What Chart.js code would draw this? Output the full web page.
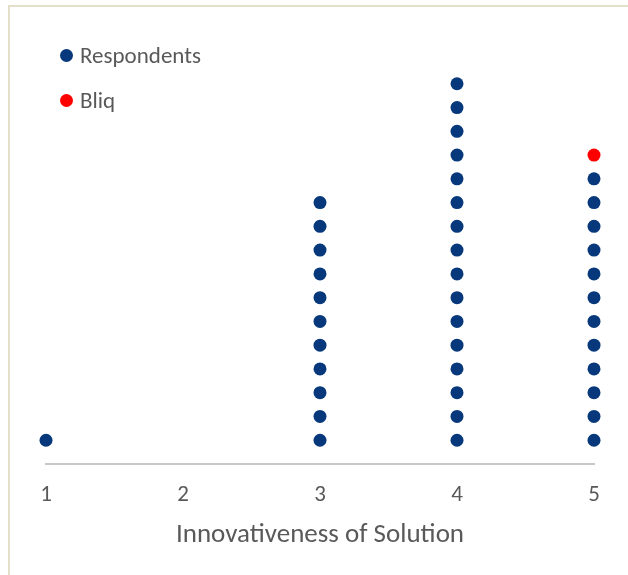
<!DOCTYPE html>
<html>
<head>
<meta charset="utf-8">
<script src="https://cdn.jsdelivr.net/npm/chart.js@4"></script>
<style>
    html, body { margin: 0; padding: 0; background: #fff; }
    body { width: 628px; height: 575px; position: relative; overflow: hidden; }
    .frame {
        position: absolute; left: 8px; top: 5px; width: 640px; height: 600px;
        border-left: 2px solid #e4dfca; border-top: 2px solid #e4dfca;
    }
    #chartBox { position: absolute; left: 0; top: 0; width: 628px; height: 575px; }
    .legend { position: absolute; left: 60px; top: 42px; font-family: Carlito, "Liberation Sans Narrow", "Open Sans", sans-serif; font-size: 23px; color: #595959; }
    .legend div { display: flex; align-items: center; height: 26px; margin-bottom: 19px; }
    .legend span.dot { width: 13px; height: 13px; border-radius: 50%; display: inline-block; margin-right: 7px; }
</style>
</head>
<body>
<div class="frame"></div>
<div id="chartBox"><canvas id="dotChart" width="628" height="575"></canvas></div>
<div class="legend" id="legend"></div>
<script>
// 資料
const scores = [1, 2, 3, 4, 5];
const respondentCounts = [1, 0, 11, 16, 12];
const bliqScore = [5];
const bliqLevel = [13];

const colors = {
    respondents: '#07387b',
    bliq: '#ff0000',
    text: '#595959',
    axis: '#c8c8c8'
};

// 把每個分數的人數疊成點
const respondentPoints = [];
scores.forEach((s, i) => {
    for (let k = 1; k <= respondentCounts[i]; k++) {
        respondentPoints.push({ x: s, y: k });
    }
});
const bliqPoints = bliqScore.map((s, i) => ({ x: s, y: bliqLevel[i] }));

const font = 'Carlito, "Liberation Sans Narrow", "Open Sans", sans-serif';

const chart = new Chart(document.getElementById('dotChart'), {
    type: 'scatter',
    data: {
        datasets: [{
            label: 'Respondents',
            data: respondentPoints,
            backgroundColor: colors.respondents,
            borderWidth: 0,
            pointRadius: 6.5,
            pointHoverRadius: 6.5,
            clip: false
        }, {
            label: 'Bliq',
            data: bliqPoints,
            backgroundColor: colors.bliq,
            borderWidth: 0,
            pointRadius: 6.5,
            pointHoverRadius: 6.5,
            clip: false
        }]
    },
    options: {
        responsive: false,
        animation: false,
        layout: { padding: { left: 46, right: 34, top: 60, bottom: 0 } },
        plugins: {
            legend: { display: false },
            tooltip: { enabled: false }
        },
        scales: {
            x: {
                type: 'linear',
                min: 1,
                max: 5,
                grid: { display: false, drawTicks: false },
                border: { display: true, color: colors.axis, width: 2 },
                ticks: {
                    stepSize: 1,
                    padding: 17,
                    color: colors.text,
                    font: { family: font, size: 23 }
                },
                title: {
                    display: true,
                    text: 'Innovativeness of Solution',
                    color: colors.text,
                    font: { family: font, size: 27 },
                    padding: { top: -7, bottom: 24 }
                }
            },
            y: {
                display: false,
                min: 0,
                max: 17
            }
        }
    }
});

// 圖例
const legendBox = document.getElementById('legend');
chart.data.datasets.forEach(ds => {
    const row = document.createElement('div');
    const dot = document.createElement('span');
    dot.className = 'dot';
    dot.style.background = ds.backgroundColor;
    row.appendChild(dot);
    row.appendChild(document.createTextNode(ds.label));
    legendBox.appendChild(row);
});
</script>
</body>
</html>
